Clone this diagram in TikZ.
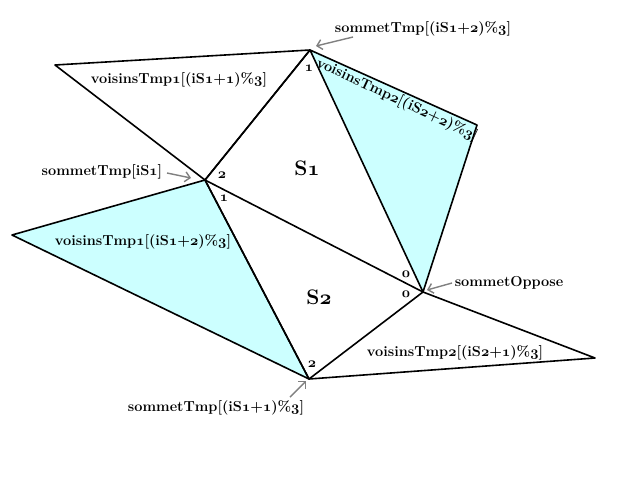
\documentclass[tikz,border=0pt]{standalone}
\usetikzlibrary{arrows.meta}
\definecolor{lcyan}{RGB}{204,255,255}
\definecolor{agray}{RGB}{128,128,128}
\newcommand{\os}[1]{{\usefont{OML}{cmm}{b}{it}#1}}
\begin{document}
\begin{tikzpicture}[x=1pt,y=-1pt,
  edge/.style={line width=1.6pt,line join=round},
  lbl/.style={font=\fontsize{14.5}{16}\selectfont\bfseries,inner sep=0pt},
  idx/.style={font=\fontsize{15}{16}\selectfont\bfseries,inner sep=0pt},
  big/.style={font=\fontsize{21}{23}\selectfont\bfseries,inner sep=0pt},
  ptr/.style={draw=agray,line width=1.4pt,-{Straight Barb[length=5pt,width=10pt]}}]
\useasboundingbox (0,0) rectangle (640,480);
\fill[white] (0,0) rectangle (640,480);
\coordinate (A) at (310,50);
\coordinate (B) at (205,180);
\coordinate (C) at (423,292);
\coordinate (D) at (309,379);
\coordinate (E) at (55,65);
\coordinate (F) at (477,125);
\coordinate (G) at (12,235);
\coordinate (H) at (595,358);
\fill[lcyan] (A) -- (F) -- (C) -- cycle;
\fill[lcyan] (G) -- (B) -- (D) -- cycle;
\draw[edge] (E) -- (A) -- (B) -- cycle;
\draw[edge] (A) -- (F) -- (C) -- cycle;
\draw[edge] (A) -- (B) -- (C);
\draw[edge] (G) -- (B) -- (D) -- cycle;
\draw[edge] (B) -- (D) -- (C);
\draw[edge] (C) -- (H) -- (D);
% labels
\node[lbl] (tA) at (423,29) {sommetTmp[(iS\os{1}+\os{2})\%\os{3}]};
\node[lbl] (tB) at (102,172) {sommetTmp[iS\os{1}]};
\node[lbl] (tD) at (216,408) {sommetTmp[(iS\os{1}+\os{1})\%\os{3}]};
\node[lbl] (tC) at (509,283) {sommetOppose};
\node[lbl] (v1) at (179,80) {voisinsTmp\os{1}[(iS\os{1}+\os{1})\%\os{3}]};
\node[lbl] (v2) at (143,242) {voisinsTmp\os{1}[(iS\os{1}+\os{2})\%\os{3}]};
\node[lbl] (v3) at (455,353) {voisinsTmp\os{2}[(iS\os{2}+\os{1})\%\os{3}]};
\node[lbl,rotate=-25] (v4) at (397,100) {voisinsTmp\os{2}[(iS\os{2}+\os{2})\%\os{3}]};
\node[big] (s1) at (307,168) {S\os{1}};
\node[big] (s2) at (319,297) {S\os{2}};
\node[idx] (iA) at (309,68) {\os{1}};
\node[idx] (iB2) at (222,175) {\os{2}};
\node[idx] (iB1) at (224,198) {\os{1}};
\node[idx] (iD) at (312,364) {\os{2}};
\node[idx] (iC1) at (406,274) {\os{0}};
\node[idx] (iC2) at (406,294) {\os{0}};
% pointers
\coordinate (pA) at (316,46);
\coordinate (pB) at (191,178);
\coordinate (pD) at (306,381);
\coordinate (pC) at (427,290);
\draw[ptr] (353,37) -- (pA);
\draw[ptr] (167,173) -- (pB);
\draw[ptr] (290,397) -- (pD);
\draw[ptr] (452,283) -- (pC);
\end{tikzpicture}
\end{document}
